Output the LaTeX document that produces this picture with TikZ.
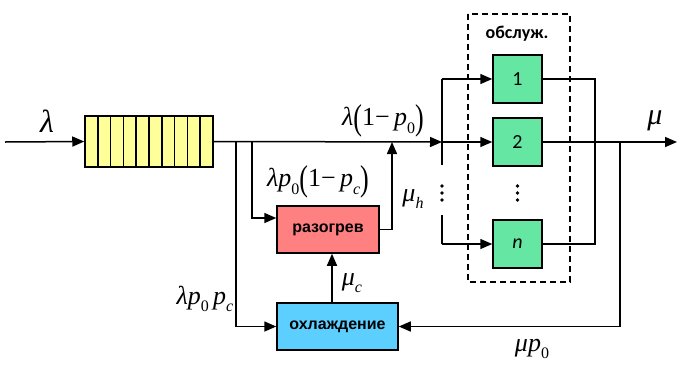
\documentclass[tikz,border=0pt]{standalone}
\usepackage{fontspec}
\newfontfamily\arialb{Liberation Sans}
\newfontfamily\calib{Carlito}
\newfontfamily\tnr{Liberation Serif}
\usetikzlibrary{arrows.meta}
\definecolor{qyellow}{HTML}{FFFF99}
\definecolor{sgreen}{HTML}{66E6A3}
\definecolor{hred}{HTML}{FF8080}
\definecolor{cblue}{HTML}{5CCFFF}
\newcommand{\sbx}[1]{\raisebox{-0.28em}{\fontsize{16}{16}\selectfont #1}}
\newcommand{\bp}[1]{\raisebox{-0.14em}{\scalebox{1}[1.38]{(}}#1\raisebox{-0.14em}{\scalebox{1}[1.38]{)}}}
\tikzset{
  blk/.style={draw, line width=1.5pt, inner sep=0pt},
  queuebox/.style={blk, fill=qyellow, minimum width=128pt, minimum height=51pt},
  srvbox/.style={blk, fill=sgreen, minimum width=49pt, minimum height=48pt, font=\calib\fontsize{20}{20}\selectfont},
  heatbox/.style={blk, fill=hred, minimum width=102pt, minimum height=47pt, font=\arialb\bfseries\fontsize{16}{18}\selectfont},
  coolbox/.style={blk, fill=cblue, minimum width=121pt, minimum height=47pt, font=\arialb\bfseries\fontsize{16}{18}\selectfont},
  mlbl/.style={inner sep=0pt, font=\tnr\fontsize{26}{30}\selectfont},
  conn/.style={line width=1.5pt},
  arr/.style={conn, -{Triangle[length=12pt,width=10pt]}}
}
\begin{document}
\begin{tikzpicture}[x=1pt,y=-1pt]
\useasboundingbox (0,0) rectangle (677,365);
% dashed server group
\draw[line width=1.5pt, dash pattern=on 6pt off 4pt] (468,14) rectangle (570,282);
\node[inner sep=0pt, font=\calib\bfseries\fontsize{18}{20}\selectfont] (grp) at (517,34) {обслуж.};
% queue
\node[queuebox] (q) at (149,141.5) {};
\foreach \k in {1,...,9} \draw[conn] (85+12.8*\k,116) -- (85+12.8*\k,167);
\coordinate (in) at (5,142);
\draw[arr] (in) -- (q.west);
% servers
\node[srvbox] (s1) at (517.5,79) {1};
\node[srvbox] (s2) at (517.5,142) {2};
\node[srvbox] (sn) at (517.5,244) {\itshape n};
\coordinate (sp) at (442,142);
\coordinate (t1) at (442,79);
\coordinate (tn) at (442,244);
\coordinate (gapa) at (442,165);
\coordinate (gapb) at (442,215);
\draw[arr] (q.east) -- (sp);
\draw[conn] (t1) -- (gapa);
\draw[conn] (gapb) -- (tn);
\draw[arr] (t1) -- (s1.west);
\draw[arr] (sp) -- (s2.west);
\draw[arr] (tn) -- (sn.west);
\foreach \yy in {186,193,200} { \fill (442,\yy) circle (1.9); \fill (517.5,\yy) circle (1.9); }
\coordinate (r1) at (595,79);
\coordinate (rn) at (595,244);
\draw[conn] (s1.east) -- (r1) -- (rn) -- (sn.east);
\coordinate (out) at (677,142);
\draw[arr] (s2.east) -- (out);
% heating / cooling
\node[heatbox] (heat) at (328,229.5) {разогрев};
\node[coolbox] (cool) at (337.5,326.5) {охлаждение};
\coordinate (b1) at (236,142);
\coordinate (b2) at (252,142);
\coordinate (h2) at (252,218);
\coordinate (hu) at (392,142);
\coordinate (fb) at (620,142);
\draw[arr] (b1) |- (cool.west);
\draw[arr] (b2) -- (h2) -- (heat.west |- h2);
\draw[arr] (heat.east) -| (hu);
\draw[arr] ([xshift=-5.5pt]cool.north) -- ([xshift=4pt]heat.south);
\draw[arr] (fb) |- (cool.east);
% labels
\node[mlbl, font=\tnr\fontsize{32}{34}\selectfont] (llam) at (47,121) {\textit{λ}};
\node[mlbl] (l1) at (383,121) {\textit{λ}\bp{1−\,\textit{p}\sbx{0}}};
\node[mlbl] (l2) at (318,182) {\textit{λp}\sbx{0}\bp{1−\,\textit{p}\sbx{\textit{c}}}};
\node[mlbl] (l3) at (413,199) {\textit{μ}\sbx{\textit{h}}};
\node[mlbl] (l4) at (352,283) {\textit{μ}\sbx{\textit{c}}};
\node[mlbl] (l5) at (205,299) {\textit{λp}\sbx{0}\,\textit{p}\sbx{\textit{c}}};
\node[mlbl, font=\tnr\fontsize{30}{32}\selectfont] (l6) at (655,121) {\textit{μ}};
\node[mlbl] (l7) at (532,349) {\textit{μp}\sbx{0}};
\end{tikzpicture}
\end{document}
